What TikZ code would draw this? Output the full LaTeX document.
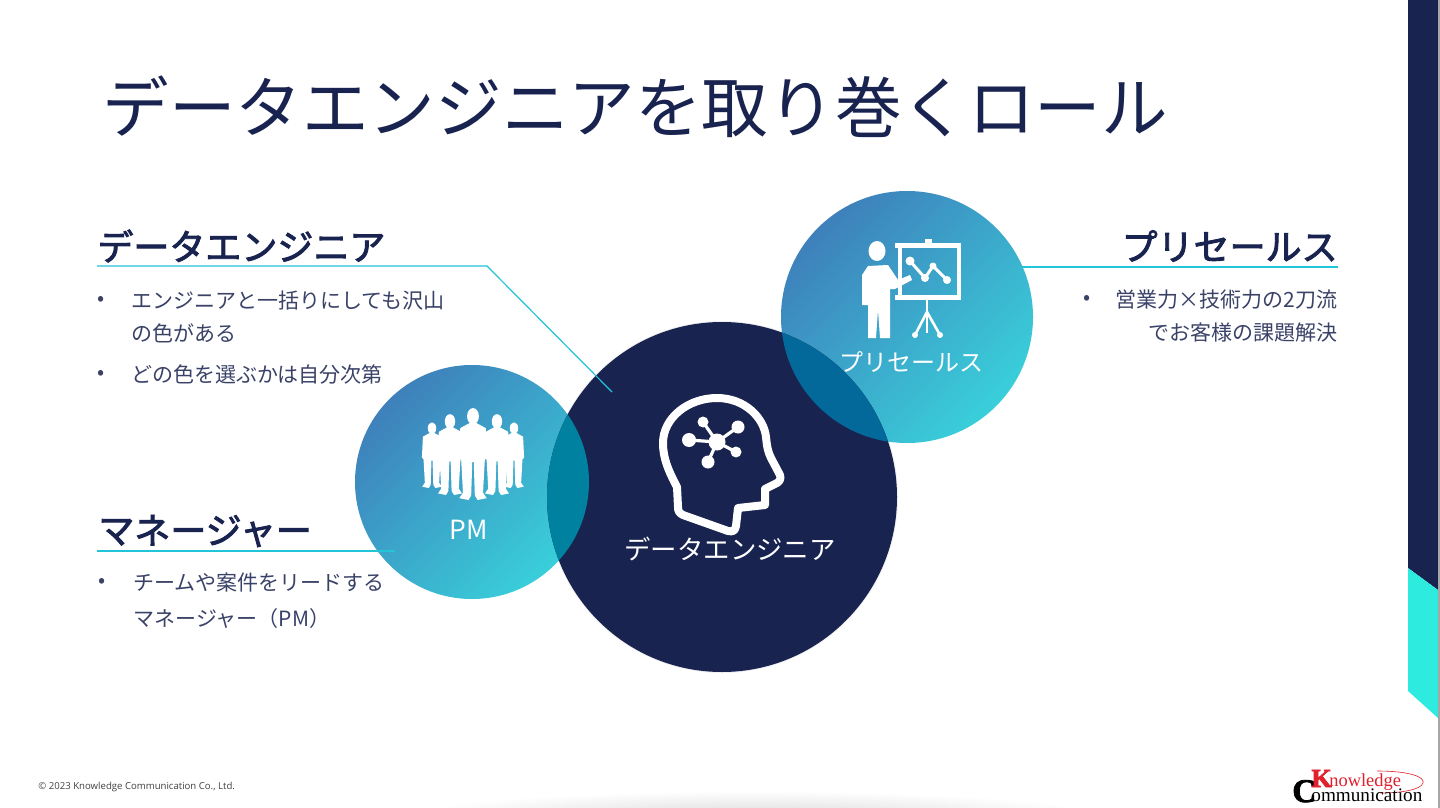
\documentclass[tikz,border=0pt]{standalone}
\usepackage{fontspec}
\setmainfont{Noto Sans CJK JP}
\newfontfamily\headfont[FakeBold=2.5]{Noto Sans CJK JP}
\newfontfamily\footfont{Open Sans}
\newfontfamily\logofont{Liberation Serif}
\newfontfamily\logoheavy[FakeBold=2.5]{Liberation Serif Bold}
\definecolor{navy}{HTML}{192350}
\definecolor{bodyink}{HTML}{3A4268}
\definecolor{rulecyan}{HTML}{22C4D8}
\definecolor{bandcyan}{HTML}{2EEBE0}
\definecolor{gradblue}{HTML}{3E80BB}
\definecolor{gradcyan}{HTML}{39CFDA}
\definecolor{logored}{HTML}{E0202C}
\definecolor{overlapleft}{HTML}{00819F}
\definecolor{overlapright}{HTML}{03689A}
\tikzset{
  titletext/.style={anchor=west,inner sep=0pt,text=navy,font=\fontsize{33.3}{38}\selectfont},
  headtext/.style={anchor=west,inner sep=0pt,text=navy,font=\headfont\fontsize{18}{20}\selectfont},
  bodytext/.style={anchor=west,inner sep=0pt,text=bodyink,font=\fontsize{10.5}{13}\selectfont},
  circletext/.style={inner sep=0pt,text=white,font=\fontsize{13.2}{16}\selectfont},
  leader/.style={draw=rulecyan,line width=0.6pt},
  gradcircle/.style={shading=axis,top color=gradblue,bottom color=gradcyan,shading angle=45},
  icon/.style={fill=white,draw=none},
}
\begin{document}
\begin{tikzpicture}[x=0.5pt,y=-0.5pt]
  \useasboundingbox (0,0) rectangle (1440,808);
  % page furniture
  \fill[white] (0,0) rectangle (1440,808);
  \begin{scope}
    \clip (0,0) rectangle (1440,808);
    \shade[inner color=black!15,outer color=white] (755,818) ellipse (355 and 27);
  \end{scope}
  \fill[navy] (1408,0) -- (1438,0) -- (1438,590) -- (1408,568) -- cycle;
  \fill[bandcyan] (1408,568) -- (1438,590) -- (1438,718) -- (1408,691) -- cycle;
  \fill[black!35] (1438,0) rectangle (1440,808);

  % circles
  \coordinate (pmc) at (472,482);
  \coordinate (dec) at (722,497);
  \coordinate (psc) at (907,317);
  \fill[black!6] (dec) circle (176);
  \shade[gradcircle] (pmc) circle (117);
  \shade[gradcircle] (psc) circle (126);
  \fill[navy] (dec) circle (175);
  \begin{scope}
    \clip (dec) circle (175);
    \fill[overlapleft] (pmc) circle (117);
    \fill[overlapright] (psc) circle (126);
  \end{scope}

  % title and texts
  \node[titletext] (title) at (102,107) {データエンジニアを取り巻くロール};
  \node[headtext] (dehead) at (97,246) {データエンジニア};
  \node[headtext] (pmhead) at (98,531) {マネージャー};
  \node[headtext,anchor=east] (pshead) at (1338,246) {プリセールス};

  \node[bodytext] (de1) at (131,301) {エンジニアと一括りにしても沢山};
  \node[bodytext] (de2) at (131,333) {の色がある};
  \node[bodytext] (de3) at (131,375) {どの色を選ぶかは自分次第};
  \node[bodytext] (pm1) at (133,583) {チームや案件をリードする};
  \node[bodytext] (pm2) at (133,619) {マネージャー（PM）};
  \node[bodytext,anchor=east] (ps1) at (1338,300) {営業力×技術力の2刀流};
  \node[bodytext,anchor=east] (ps2) at (1338,333) {でお客様の課題解決};
  \node[bodytext] (b1) at (97,301) {•};
  \node[bodytext] (b2) at (97,375) {•};
  \node[bodytext] (b3) at (98,583) {•};
  \node[bodytext] (b4) at (1083,300) {•};

  \node[circletext] (pmlabel) at (469,530) {PM};
  \node[circletext] (delabel) at (730,549) {データエンジニア};
  \node[circletext,font=\fontsize{12}{15}\selectfont] (pslabel) at (911,362) {プリセールス};

  % leader lines
  \coordinate (destart) at (97,266);
  \coordinate (debend) at (487,266);
  \coordinate (deend) at (612,392);
  \coordinate (pmstart) at (97,551);
  \coordinate (pmend) at (395,551);
  \coordinate (psstart) at (1022,267);
  \coordinate (psend) at (1338,267);
  \draw[leader] (destart) -- (debend) -- (deend);
  \draw[leader] (pmstart) -- (pmend);
  \draw[leader] (psstart) -- (psend);

  % head icon
  \draw[white,line width=4pt,line join=round]
    (677,487) .. controls (668,470) and (663,458) .. (663,443)
    .. controls (663,418) and (688,398) .. (717,398)
    .. controls (745,398) and (764,418) .. (766,437)
    .. controls (767,447) and (768,452) .. (771,458)
    -- (780,475) .. controls (781,479) and (780,481) .. (777,483)
    -- (765,489) -- (765,505) -- (738,508)
    -- (736,526) .. controls (735,531) and (733,532) .. (728,531)
    -- (683,515) .. controls (679,513) and (678,511) .. (678,507) -- cycle;
  \foreach \nx/\ny/\nr in {703/422/5.5,738/427/6.5,689/440/7,736/452/5.5,708/462/6.5}{
    \draw[white,line width=1.6pt] (717,442) -- (\nx,\ny);
    \fill[white] (\nx,\ny) circle (\nr);
  }
  \fill[white] (717,442) circle (8.5);

  % presenter icon
  \fill[icon] (877,251) ellipse (8.5 and 10);
  \fill[icon] (862,275) -- (868,266) -- (888,265) -- (898,280) -- (910,275) -- (912,280) -- (895,289)
    -- (890,289) -- (890,338) -- (880,338) -- (878,310) -- (876,338) -- (868,338) -- (868,305) -- (862,305) -- cycle;
  \fill[icon] (895,243) rectangle (961,248);
  \fill[icon] (925,239) rectangle (932,243);
  \fill[icon] (895,295) rectangle (961,300);
  \fill[icon] (898,248) rectangle (902,295);
  \fill[icon] (957,248) rectangle (961,295);
  \draw[white,line width=1.5pt] (910,261) -- (925,278) -- (933,266) -- (947,280);
  \foreach \nx/\ny/\nr in {910/261/4.5,925/278/4,933/266/3.5,947/280/4}{
    \fill[white] (\nx,\ny) circle (\nr);
  }
  \draw[white,line width=1.3pt] (927,300) -- (927,333);
  \draw[white,line width=1.3pt] (915,335) -- (927,312) -- (940,335);
  \fill[white] (915,335) circle (3);
  \fill[white] (940,335) circle (3);

  % team icon
  \foreach \px/\py/\ps in {432/423/.65,514/423/.65,450/415/.8,497/415/.8,473/409/.91}{
    \begin{scope}[shift={(\px,\py)},scale=\ps]
      \fill[icon] (0,8) ellipse (6.5 and 9);
      \fill[icon] (-3,15) -- (3,15) -- (14,21) -- (15.5,53) -- (13,56) -- (11,92) -- (15,98) -- (5,100)
        -- (2,95) -- (0.8,58) -- (-0.8,58) -- (-2,95) -- (-5,100) -- (-15,98) -- (-11,92) -- (-13,56)
        -- (-15.5,53) -- (-14,21) -- cycle;
    \end{scope}
  }

  % footer and logo
  \node[inner sep=0pt,anchor=west,text=black!75,font=\footfont\fontsize{4.8}{6}\selectfont] (copyright) at (38,787) {© 2023 Knowledge Communication Co., Ltd.};
  \draw[logored,line width=0.3pt] (1377,771) .. controls (1410,771) and (1425,777) .. (1423,783)
    .. controls (1421,790) and (1400,793) .. (1380,793);
  \node[inner sep=0pt,anchor=base west,text=black,font=\logoheavy\fontsize{16.5}{16}\selectfont] (logoc) at (1292,802) {C};
  \node[inner sep=0pt,anchor=base west,text=black,font=\logofont\fontsize{9.6}{10}\selectfont] (logoo) at (1311,801) {ommunication};
  \node[inner sep=0pt,anchor=base west,text=logored,font=\logoheavy\fontsize{13}{13}\selectfont] (logok) at (1311,787) {K};
  \node[inner sep=0pt,anchor=base west,text=logored,font=\logofont\fontsize{9.2}{10}\selectfont] (logon) at (1329,786) {nowledge};
\end{tikzpicture}
\end{document}
